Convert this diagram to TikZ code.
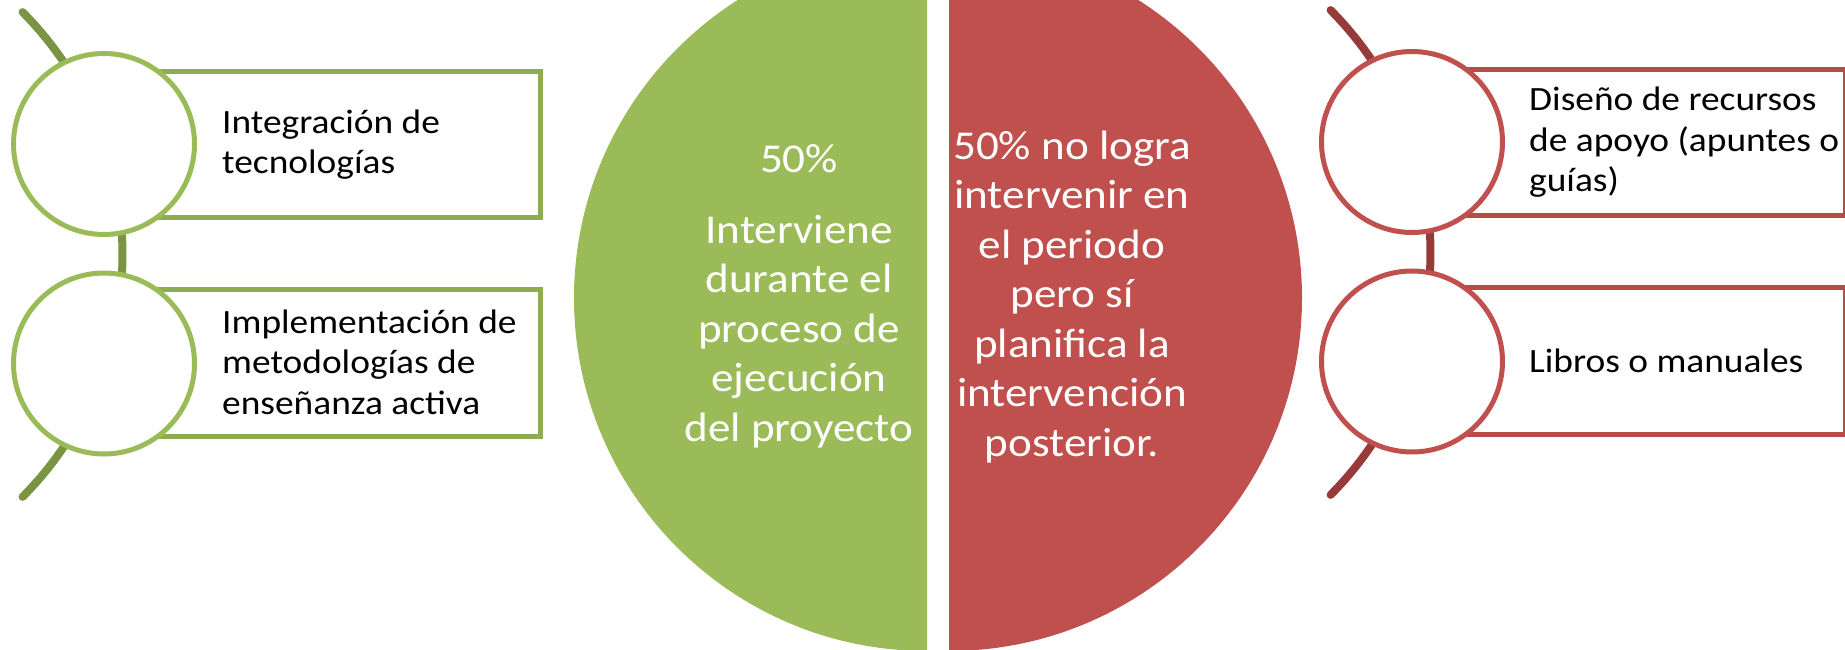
\documentclass[tikz,border=0pt]{standalone}
\usepackage{fontspec}
\setmainfont{Carlito}[FakeStretch=1.1]
\definecolor{greenfill}{HTML}{9BBB59}
\definecolor{greenband}{HTML}{8EAC50}
\definecolor{greenspine}{HTML}{7A9444}
\definecolor{redfill}{HTML}{C0504D}
\definecolor{redband}{HTML}{B84B48}
\definecolor{redspine}{HTML}{963B39}

\begin{document}
\begin{tikzpicture}[x=1pt,y=1pt,
    ring/.style={circle,draw,fill=white,line width=5pt,minimum size=181pt,inner sep=0pt},
    band/.style={line width=5pt,fill=white},
    spine/.style={line width=8pt,line cap=round},
    item/.style={anchor=base west,align=left,inner sep=0pt,font=\fontsize{34}{40.5}\selectfont},
    slice/.style={anchor=base,align=center,inner sep=0pt,text=white,font=\fontsize{41}{49.5}\selectfont}]
\useasboundingbox (0,0) rectangle (1845,649);
\clip (0,0) rectangle (1845,649);

% the two halves of the pie
\fill[greenfill] (927,704) arc[start angle=90,end angle=270,radius=353] -- cycle;
\fill[redfill] (949,704) arc[start angle=90,end angle=-90,radius=353] -- cycle;

\foreach \s/\cx/\dy/\rx/\ringcol/\bandcol/\spinecol in
    {g/104/0/540/greenfill/greenband/greenspine, r/1412/2/1845/redfill/redband/redspine} {
    \coordinate (\s c) at (\cx-325.5,394.5+\dy);
    \coordinate (\s top) at ([shift={(44.8:344)}]\s c);
    \draw[spine,\spinecol] (\s top) arc[start angle=44.8,end angle=-44.8,radius=344];

    \draw[band,draw=\bandcol] (\cx,577.5+\dy) rectangle (\rx,431.5+\dy);
    \draw[band,draw=\bandcol] (\cx,359.5+\dy) rectangle (\rx,213+\dy);

    \node[ring,draw=\ringcol] (\s1) at (\cx,505+\dy) {};
    \node[ring,draw=\ringcol] (\s2) at (\cx,285.5+\dy) {};
}

% base = baseline of the last line
\node[item] (gtext1) at (222,475) {Integración de\\tecnologías};
\node[item] (gtext2) at (222,235) {Implementación de\\metodologías de\\enseñanza activa};
\node[item] (rtext1) at (1529,457) {Diseño de recursos\\de apoyo (apuntes o\\guías)};
\node[item] (rtext2) at (1529,277) {Libros o manuales};

\node[slice] (gslice) at (799,208) {50\%\\[21pt]Interviene\\durante el\\proceso de\\ejecución\\del proyecto};
\node[slice] (rslice) at (1072,193) {50\% no logra\\intervenir en\\el periodo\\pero sí\\planifica la\\intervención\\posterior.};
\end{tikzpicture}
\end{document}
